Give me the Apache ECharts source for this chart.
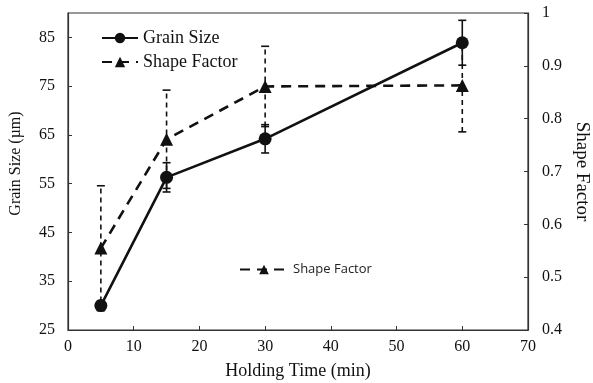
<!DOCTYPE html>
<html>
<head>
<meta charset="utf-8">
<script src="https://cdn.jsdelivr.net/npm/echarts@6/dist/echarts.min.js"></script>
<style>
  html, body { margin: 0; padding: 0; background: #fff; }
  #chart { width: 593px; height: 383px; }
</style>
</head>
<body>
<div id="chart"></div>
<script>
// Holding time (min) for each measurement
const holdingTime = [5, 15, 30, 60];
// Mean grain size (µm) and its error
const grainSize = [30, 56.3, 64.2, 83.9];
const grainErr = [1, 3, 2.9, 4.6];
// Mean shape factor and its error
const shapeFactor = [0.555, 0.761, 0.861, 0.863];
const shapeErr = [0.118, 0.093, 0.076, 0.088];
// Tick labels on the grain size axis
const grainTicks = [25, 35, 45, 55, 65, 75, 85];

const serif = 'Liberation Serif';
const ink = '#111';

function pairs(xs, ys) { return xs.map((x, i) => [x, ys[i]]); }
function bars(xs, ys, es) { return xs.map((x, i) => [x, ys[i] - es[i], ys[i] + es[i]]); }

function errorBar(dashed) {
  return function (params, api) {
    const x = api.value(0);
    const lo = api.coord([x, api.value(1)]);
    const hi = api.coord([x, api.value(2)]);
    const cap = 4;
    const style = { stroke: ink, lineWidth: 1.6, lineDash: dashed ? [5, 4] : null };
    const capStyle = { stroke: ink, lineWidth: 1.6 };
    return {
      type: 'group',
      children: [
        { type: 'line', shape: { x1: lo[0], y1: lo[1], x2: hi[0], y2: hi[1] }, style: style },
        { type: 'line', shape: { x1: lo[0] - cap, y1: lo[1], x2: lo[0] + cap, y2: lo[1] }, style: capStyle },
        { type: 'line', shape: { x1: hi[0] - cap, y1: hi[1], x2: hi[0] + cap, y2: hi[1] }, style: capStyle }
      ]
    };
  };
}

const chart = echarts.init(document.getElementById('chart'), null, { renderer: 'canvas' });

chart.setOption({
  backgroundColor: '#fff',
  animation: false,
  grid: {
    left: 68, right: 65, top: 13, bottom: 53,
    containLabel: false, outerBoundsMode: 'none',
    show: true, borderColor: '#333', borderWidth: 1.2, backgroundColor: 'transparent'
  },
  legend: [
    {
      data: ['Grain Size', 'Shape Factor'],
      orient: 'vertical',
      left: 96, top: 24,
      itemWidth: 36, itemHeight: 13, itemGap: 6,
      textStyle: { fontFamily: serif, fontSize: 18, color: ink },
      selectedMode: false
    },
    {
      data: ['Shape Factor'],
      left: 234, top: 258,
      itemWidth: 48, itemHeight: 12, itemGap: 4,
      textStyle: { fontFamily: 'Open Sans', fontSize: 13, color: '#222' },
      selectedMode: false
    }
  ],
  xAxis: {
    type: 'value', min: 0, max: 70, interval: 10,
    name: 'Holding Time (min)', nameLocation: 'middle', nameGap: 32,
    nameTextStyle: { fontFamily: serif, fontSize: 18, color: ink },
    axisLine: { show: true, lineStyle: { color: '#333', width: 1.2 } },
    axisTick: { show: true, inside: true, length: 4, lineStyle: { color: '#333' } },
    axisLabel: { fontFamily: serif, fontSize: 16, color: ink, margin: 9 },
    splitLine: { show: false }
  },
  yAxis: [
    {
      type: 'value', min: 25, max: 90,
      name: 'Grain Size (µm)', nameLocation: 'middle', nameGap: 44, nameRotate: 90,
      nameTextStyle: { fontFamily: serif, fontSize: 16, color: ink, padding: [0, 0, 0, 16] },
      axisLine: { show: true, lineStyle: { color: '#333', width: 1.2 } },
      axisTick: { show: true, inside: true, length: 4, customValues: grainTicks, lineStyle: { color: '#333' } },
      axisLabel: { fontFamily: serif, fontSize: 16, color: ink, margin: 13, customValues: grainTicks },
      splitLine: { show: false }
    },
    {
      type: 'value', min: 0.4, max: 1, interval: 0.1, position: 'right',
      name: 'Shape Factor', nameLocation: 'middle', nameGap: 42, nameRotate: -90,
      nameTextStyle: { fontFamily: serif, fontSize: 19, color: ink },
      axisLine: { show: true, lineStyle: { color: '#333', width: 1.2 } },
      axisTick: { show: true, inside: true, length: 4, lineStyle: { color: '#333' } },
      axisLabel: { fontFamily: serif, fontSize: 16, color: ink, margin: 14 },
      splitLine: { show: false }
    }
  ],
  series: [
    {
      type: 'custom', name: 'grainErr', yAxisIndex: 0, z: 1,
      renderItem: errorBar(false),
      encode: { x: 0, y: [1, 2] },
      data: bars(holdingTime, grainSize, grainErr)
    },
    {
      type: 'custom', name: 'shapeErr', yAxisIndex: 1, z: 1,
      renderItem: errorBar(true),
      encode: { x: 0, y: [1, 2] },
      data: bars(holdingTime, shapeFactor, shapeErr)
    },
    {
      type: 'line', name: 'Grain Size', yAxisIndex: 0, z: 3,
      data: pairs(holdingTime, grainSize),
      symbol: 'circle', symbolSize: 13,
      lineStyle: { color: ink, width: 2.6 },
      itemStyle: { color: ink }
    },
    {
      type: 'line', name: 'Shape Factor', yAxisIndex: 1, z: 3,
      data: pairs(holdingTime, shapeFactor),
      symbol: 'triangle', symbolSize: 13,
      lineStyle: { color: ink, width: 2.6, type: [10, 7] },
      itemStyle: { color: ink }
    }
  ]
});
</script>
</body>
</html>
